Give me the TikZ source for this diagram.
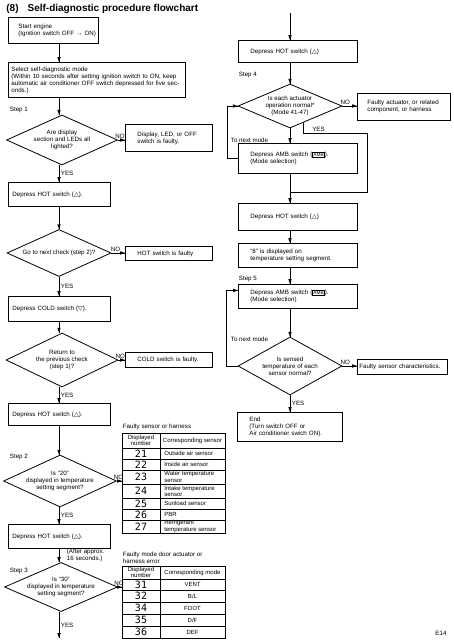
\documentclass[tikz,border=0pt]{standalone}
\usepackage{fontspec}
\setmainfont{Liberation Sans}
\newfontfamily\symfont{DejaVu Sans}
\newfontfamily\segfont{DejaVu Sans Mono}
\usetikzlibrary{shapes.geometric}

\tikzset{
  flowbox/.style={draw=black, rectangle, anchor=north west, align=left, inner ysep=0pt, font=\fontsize{6.2}{7}\selectfont},
  decision/.style={draw=black, diamond, shape aspect=2.3, inner sep=0pt, align=center, font=\fontsize{6.2}{7}\selectfont},
  lbl/.style={inner sep=1.5pt, font=\fontsize{6.2}{7}\selectfont},
  cell/.style={inner sep=0pt, font=\fontsize{6}{6.2}\selectfont},
  segnum/.style={inner sep=0pt, font=\segfont\fontsize{10}{10}\selectfont},
  link/.style={draw=black, line width=0.8pt},
}
\setlength\fboxsep{0.6pt}
\newcommand\ambkey{\fbox{\fontsize{4.8}{5}\selectfont AMB}}
\newcommand\up{{\symfont △}}
\newcommand\down{{\symfont ▽}}
% arrow heads, tip at the given point
\newcommand\headdown[1]{\fill[black] (#1) -- ++(-1.7,-4.8) -- ++(3.4,0) -- cycle;}
\newcommand\headright[1]{\fill[black] (#1) -- ++(-4.8,-1.7) -- ++(0,3.4) -- cycle;}

\begin{document}
\begin{tikzpicture}[x=1pt,y=-1pt,line width=0.8pt]
\useasboundingbox (0,0) rectangle (453,640);

\node[anchor=west, inner sep=0pt, font=\fontsize{10}{12}\selectfont\bfseries] (title) at (6,9) {(8)\hspace{9pt}Self-diagnostic procedure flowchart};

% left column
\node[flowbox, text width=86pt, inner xsep=2pt, minimum height=26pt] (start) at (8,17) {\hspace*{8pt}Start engine\\\hspace*{8pt}(Ignition switch OFF → ON)};
\node[flowbox, text width=171pt, inner xsep=3pt, minimum height=35pt] (sel) at (8,62) {Select self-diagnostic mode\\(Within 10 seconds after setting ignition switch to ON, keep\\automatic air conditioner OFF switch depressed for five sec-\\onds.)};
\node[lbl, anchor=west] (step1) at (8,110) {Step 1};
\node[decision, minimum width=111pt, minimum height=50pt] (d1) at (62,140) {Are display\\section and LEDs all\\lighted?};
\node[flowbox, text width=63pt, inner xsep=12pt, minimum height=27pt] (f1) at (125,124) {Display, LED, or OFF\\switch is faulty.};
\node[flowbox, text width=94pt, inner xsep=4pt, minimum height=24pt] (hot1) at (8,182) {Depress HOT switch (\up).};
\node[decision, minimum width=104pt, minimum height=47pt] (d2) at (59,253) {Go to next check (step 2)?};
\node[flowbox, text width=63pt, inner xsep=12pt, minimum height=14pt] (f2) at (125,246) {HOT switch is faulty};
\node[flowbox, text width=94pt, inner xsep=4pt, minimum height=25pt] (cold) at (8,296) {Depress COLD switch (\down).};
\node[decision, minimum width=112pt, minimum height=54pt] (d3) at (62,360) {Return to\\the previous check\\(step 1)?};
\node[flowbox, text width=63pt, inner xsep=12pt, minimum height=15pt] (f3) at (125,352) {COLD switch is faulty.};
\node[flowbox, text width=94pt, inner xsep=4pt, minimum height=22pt] (hot2) at (8,403) {Depress HOT switch (\up).};
\node[lbl, anchor=west] (step2) at (8,457) {Step 2};
\node[decision, minimum width=106pt, minimum height=52pt] (d4) at (60,481) {Is ``20''\\displayed in temperature\\setting segment?};
\node[flowbox, text width=94pt, inner xsep=4pt, minimum height=24pt] (hot3) at (8,524) {Depress HOT switch (\up).};
\node[lbl, anchor=west] (step3) at (8,571) {Step 3};
\node[decision, minimum width=108pt, minimum height=48pt] (d5) at (61,587) {Is ``30''\\displayed in temperature\\setting segment?};
\coordinate (out3) at (59,638);

% sensor table
\node[lbl, anchor=south west] (capA) at (121,432) {Faulty sensor or harness};
\node[draw=black, anchor=north west, minimum width=103pt, minimum height=100pt, inner sep=0pt] (tabA) at (122,433) {};
\draw[link] (tabA.north west) ++(38,0) -- ++(0,100);
\node[cell, align=center] at (141,440.5) {Displayed\\number};
\node[cell] at (192.5,440.5) {Corresponding sensor};
\foreach \ya/\yb/\num/\txt in {448/459/21/Outside air sensor, 459/470/22/Inside air sensor, 470/484/23/Water temperature\\sensor, 484/498/24/Intake temperature\\sensor, 498/509/25/Sunload sensor, 509/520/26/PBR, 520/533/27/Refrigerant\\temperature sensor}
{
  \draw[link] (122,\ya) -- (225,\ya);
  \node[segnum] at (141,{(\ya+\yb)/2}) {\num};
  \node[cell, anchor=west, align=left] at (164,{(\ya+\yb)/2}) {\txt};
}

% mode table
\node[lbl, anchor=south west, align=left] (capB) at (121,565) {Faulty mode door actuator or\\harness error};
\node[draw=black, anchor=north west, minimum width=103pt, minimum height=72pt, inner sep=0pt] (tabB) at (122,566) {};
\draw[link] (tabB.north west) ++(38,0) -- ++(0,72);
\node[cell, align=center] at (141,572.5) {Displayed\\number};
\node[cell] at (192.5,572.5) {Corresponding mode};
\foreach \ya/\yb/\num/\txt in {579/590/31/VENT, 590/602/32/{B/L}, 602/614/34/FOOT, 614/626/35/{D/F}, 626/638/36/DEF}
{
  \draw[link] (122,\ya) -- (225,\ya);
  \node[segnum] at (141,{(\ya+\yb)/2}) {\num};
  \node[cell] at (192.5,{(\ya+\yb)/2}) {\txt};
}

% right column
\coordinate (topin) at (290,13);
\node[flowbox, text width=95pt, inner xsep=12pt, minimum height=22pt] (rhot1) at (238,40) {Depress HOT switch (\up)};
\node[lbl, anchor=west] (step4) at (237,75) {Step 4};
\node[decision, minimum width=104pt, minimum height=44pt] (d6) at (290,106) {Is each actuator\\operation normal*\\(Mode 41-47)};
\node[flowbox, text width=73pt, inner xsep=10pt, minimum height=27pt] (f6) at (357,92.5) {Faulty actuator, or related\\component, or harness};
\node[lbl, anchor=west] (next1) at (229,140) {To next mode};
\node[flowbox, text width=95pt, inner xsep=12pt, minimum height=30pt] (amb1) at (238,143) {Depress AMB switch (\ambkey).\\(Mode selection)};
\coordinate (join) at (290,192);
\node[flowbox, text width=95pt, inner xsep=12pt, minimum height=27pt] (rhot2) at (238,203) {Depress HOT switch (\up)};
\node[flowbox, text width=95pt, inner xsep=12pt, minimum height=24pt] (r8) at (238,243) {``8'' is displayed on\\temperature setting segment.};
\node[lbl, anchor=west] (step5) at (237,279) {Step 5};
\node[flowbox, text width=95pt, inner xsep=12pt, minimum height=24pt] (amb2) at (238,284) {Depress AMB switch (\ambkey).\\(Mode selection)};
\node[lbl, anchor=west] (next2) at (229,339) {To next mode};
\node[decision, minimum width=104pt, minimum height=58pt] (d7) at (290,366) {Is sensed\\temperature of each\\sensor normal?};
\node[flowbox, text width=86pt, inner xsep=2pt, minimum height=15pt] (f7) at (357,358.5) {Faulty sensor characteristics.};
\node[flowbox, text width=81pt, inner xsep=12pt, minimum height=29pt] (finish) at (237,412) {End\\(Turn switch OFF or\\Air conditioner swich ON).};
\node[lbl] (page) at (441,633) {E14};

% connectors, left
\draw[link] (start.south -| out3) -- (sel.north -| out3); \headdown{sel.north -| out3}
\draw[link] (sel.south -| out3) -- (d1.north -| out3); \headdown{d1.north -| out3}
\draw[link] (d1.east) -- node[lbl, above, pos=0.3] {NO} (f1.west |- d1.east); \headright{f1.west |- d1.east}
\draw[link] (d1.south -| out3) -- node[lbl, right] {YES} (hot1.north -| out3); \headdown{hot1.north -| out3}
\draw[link] (hot1.south -| out3) -- (d2.north -| out3); \headdown{d2.north -| out3}
\draw[link] (d2.east) -- node[lbl, above, pos=0.3] {NO} (f2.west |- d2.east); \headright{f2.west |- d2.east}
\draw[link] (d2.south -| out3) -- node[lbl, right] {YES} (cold.north -| out3); \headdown{cold.north -| out3}
\draw[link] (cold.south -| out3) -- (d3.north -| out3); \headdown{d3.north -| out3}
\draw[link] (d3.east) -- node[lbl, above, pos=0.3] {NO} (f3.west |- d3.east); \headright{f3.west |- d3.east}
\draw[link] (d3.south -| out3) -- node[lbl, right] {YES} (hot2.north -| out3); \headdown{hot2.north -| out3}
\draw[link] (hot2.south -| out3) -- (d4.north -| out3); \headdown{d4.north -| out3}
\draw[link] (d4.east) -- node[lbl, above, pos=0.3] {NO} (tabA.west |- d4.east); \headright{tabA.west |- d4.east}
\draw[link] (d4.south -| out3) -- node[lbl, right] {YES} (hot3.north -| out3); \headdown{hot3.north -| out3}
\draw[link] (hot3.south -| out3) -- node[lbl, right, align=left, xshift=6pt] {(After approx.\\16 seconds.)} (d5.north -| out3); \headdown{d5.north -| out3}
\draw[link] (d5.east) -- node[lbl, above, pos=0.3] {NO} (tabB.west |- d5.east); \headright{tabB.west |- d5.east}
\draw[link] (d5.south -| out3) -- node[lbl, right] {YES} (out3); \headdown{out3}

% connectors, right
\draw[link] (topin) -- (rhot1.north -| topin); \headdown{rhot1.north -| topin}
\draw[link] (rhot1.south -| topin) -- (d6.north); \headdown{d6.north}
\draw[link] (d6.east) -- node[lbl, above, pos=0.2] {NO} (f6.west |- d6.east); \headright{f6.west |- d6.east}
\draw[link] (d6.south) -- (amb1.north -| topin); \headdown{amb1.north -| topin}
\draw[link] (amb1.west) -- ++(-11,0) |- (d6.west); \headright{d6.west}
\draw[link] (d6.-52) |- node[lbl, above, pos=0.62] {YES} (367,133) |- (join);
\draw[link] (amb1.south -| topin) -- (rhot2.north -| topin); \headdown{rhot2.north -| topin}
\draw[link] (rhot2.south -| topin) -- (r8.north -| topin); \headdown{r8.north -| topin}
\draw[link] (r8.south -| topin) -- (amb2.north -| topin); \headdown{amb2.north -| topin}
\draw[link] (amb2.south -| topin) -- (d7.north); \headdown{d7.north}
\draw[link] (d7.west) -- ++(-11,0) |- ([yshift=6pt]amb2.west); \headright{[yshift=6pt]amb2.west}
\draw[link] (d7.east) -- node[lbl, above, pos=0.2] {NO} (f7.west |- d7.east); \headright{f7.west |- d7.east}
\draw[link] (d7.south) -- node[lbl, right] {YES} (finish.north -| topin); \headdown{finish.north -| topin}
\end{tikzpicture}
\end{document}
